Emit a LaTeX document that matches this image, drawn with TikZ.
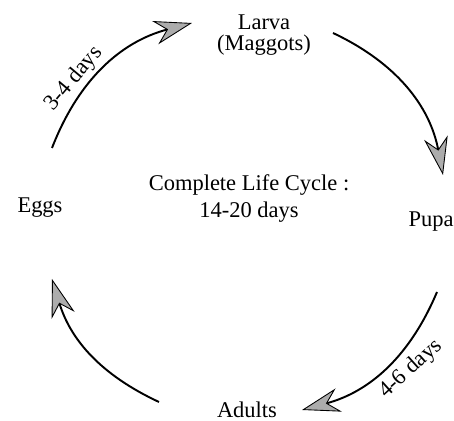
\documentclass[tikz,border=0pt]{standalone}
\usepackage{fontspec}
\setmainfont{Liberation Serif}
\usetikzlibrary{arrows.meta}

\begin{document}
\begin{tikzpicture}[x=0.02cm, y=0.02cm,
    stage/.style={font=\fontsize{12.8}{11.5}\selectfont, inner sep=0pt},
    daylabel/.style={font=\fontsize{12.8}{12}\selectfont, inner sep=0pt},
    cyclearrow/.style={line width=1.1pt,
        -{Stealth[length=0.76cm, width=0.48cm, inset=0.24cm, fill=gray!65, line width=0.5pt]}}]
    \useasboundingbox (0,0) rectangle (454,421);

    % Stages round the cycle
    \node[stage, align=center] (larva) at (264,386) {Larva\\(Maggots)};
    \node[stage, anchor=base] (eggs) at (40,208) {Eggs};
    \node[stage, anchor=base] (pupa) at (431,194) {Pupa};
    \node[stage, anchor=base] (adults) at (247,3) {Adults};
    \node[stage, anchor=base, align=center] (cycle) at (249,203)
        {Complete Life Cycle :\\[3pt]14-20 days};

    % Ends of the arrows
    \coordinate (eggsout) at (52,273);
    \coordinate (larvain) at (192,398);
    \coordinate (larvaout) at (333,388);
    \coordinate (pupain) at (443,246);
    \coordinate (pupaout) at (437,129);
    \coordinate (adultsin) at (302,11);
    \coordinate (adultsout) at (159,19);
    \coordinate (eggsin) at (52,142);

    \draw[cyclearrow] (eggsout) to[bend left=27] (larvain);
    \draw[cyclearrow] (larvaout) to[bend left=27] (pupain);
    \draw[cyclearrow] (pupaout) to[bend left=26] (adultsin);
    \draw[cyclearrow] (adultsout) to[bend left=24] (eggsin);

    % Durations
    \node[daylabel, rotate=50] (eggdays) at (74,342) {3-4 days};
    \node[daylabel, rotate=42] (pupadays) at (411,52) {4-6 days};
\end{tikzpicture}
\end{document}
